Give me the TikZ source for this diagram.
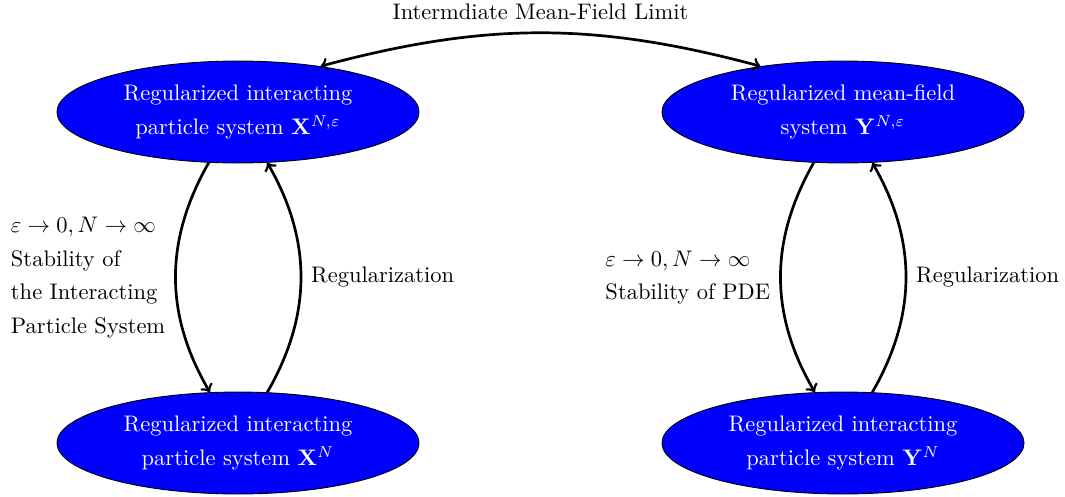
\documentclass[tikz,border=0pt]{standalone}
\usetikzlibrary{shapes.geometric}
\begin{document}
\begin{tikzpicture}[x=0.4444pt,y=0.4444pt,
  state/.style={ellipse, draw=black, line width=0.4pt, fill=blue, text=white,
    align=center, minimum width=160.9pt, minimum height=45.3pt, inner sep=0pt},
  link/.style={->, line width=1.2pt},
  twoway/.style={<->, line width=1.2pt},
  lbl/.style={align=left, inner sep=4pt}]
\useasboundingbox (0,0) rectangle (1065,496);

% the four systems
\node[state] (A) at (238,384) {Regularized interacting\\[3pt] particle system $\mathbf{X}^{N,\varepsilon}$};
\node[state] (B) at (843,384) {Regularized mean-field\\[3pt] system $\mathbf{Y}^{N,\varepsilon}$};
\node[state] (C) at (238,53) {Regularized interacting\\[3pt] particle system $\mathbf{X}^{N}$};
\node[state] (D) at (843,53) {Regularized interacting\\[3pt] particle system $\mathbf{Y}^{N}$};

% intermediate limit between the regularized systems
\draw[twoway] (A.29) to[bend left=15]
  node[above=2pt] {Intermdiate Mean-Field Limit} (B.151);

% particle side
\draw[link] (A.240) to[bend right=30]
  node[lbl, left] {$\varepsilon \to 0, N \to \infty$\\[3pt] Stability of\\[3pt] the Interacting\\[3pt] Particle System} (C.119);
\draw[link] (C.60) to[bend right=30]
  node[lbl, right] {Regularization} (A.300);

% mean-field side
\draw[link] (B.240) to[bend right=30]
  node[lbl, left] {$\varepsilon \to 0, N \to \infty$\\[3pt] Stability of PDE} (D.119);
\draw[link] (D.60) to[bend right=30]
  node[lbl, right] {Regularization} (B.300);
\end{tikzpicture}
\end{document}
